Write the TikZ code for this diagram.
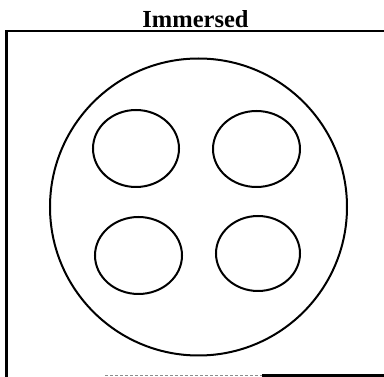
\documentclass[tikz,border=0pt]{standalone}
\usepackage{fontspec}
\setmainfont{Liberation Serif}
\usepackage{tikz}

\begin{document}
\begin{tikzpicture}[x=1pt, y=-1pt, line width=1.8pt,
    frame/.style={line width=2.2pt, black},
    faint/.style={line width=1.2pt, black!45, dash pattern=on 3pt off 2pt},
    tube/.style={line width=2pt, black}]
        \useasboundingbox (0,0) rectangle (384,377);

        % Title
        \node[font=\bfseries\fontsize{24.5}{27}\selectfont, anchor=base] (title) at (195.5,27.5) {Immersed};

        % Frame (open on the right)
        \coordinate (tl) at (6.5,31);
        \coordinate (tr) at (386,31);
        \coordinate (bl) at (6.5,379);
        \draw[frame] (tr) -- (tl) -- (bl);
        \draw[faint] (105,375.5) -- (262,375.5);
        \draw[frame] (262,375.5) -- (386,375.5);

        % Vessel
        \draw[tube] (198.5,207) circle (148.5);

        % Four inner tubes
        \draw[tube] (136,148.5) ellipse [x radius=43, y radius=38.5];
        \draw[tube] (256.5,149) ellipse [x radius=43.5, y radius=38];
        \draw[tube] (138.5,255.5) ellipse [x radius=43.5, y radius=38.5];
        \draw[tube] (258,253.5) ellipse [x radius=42, y radius=37.5];
    \end{tikzpicture}
\end{document}
